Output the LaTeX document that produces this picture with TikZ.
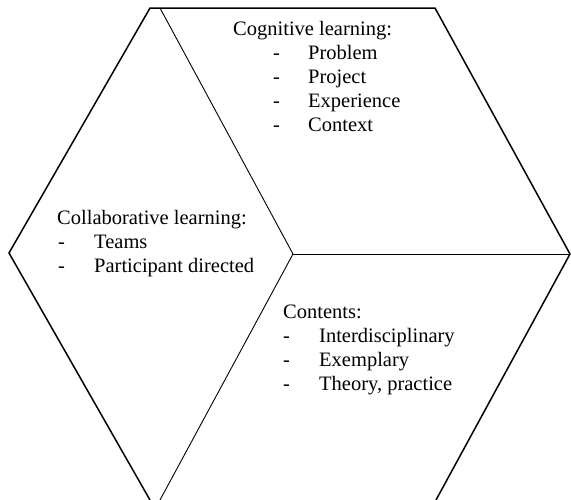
\documentclass[tikz,border=0pt]{standalone}
\usepackage{fontspec}
\setmainfont{Liberation Serif}
% dash of a list item: #1 = indent before the dash, #2 = space from dash to item text
\newcommand\listdash[2]{\hspace*{#1pt}\makebox[#2pt][l]{-}}
\begin{document}
\begin{tikzpicture}[x=1pt,y=-1pt,
  outer/.style={line width=1.5pt,line join=miter},
  inner/.style={line width=0.9pt},
  block/.style={anchor=base west,inner sep=0pt,align=left,
    font=\fontsize{20.5}{24}\selectfont}]
\useasboundingbox[fill=white] (0,0) rectangle (571,499);
% hexagon corners and centre
\coordinate (L)  at (9,253);
\coordinate (TL) at (150,8);
\coordinate (TR) at (435,8);
\coordinate (R)  at (570,254);
\coordinate (BR) at (436,500);
\coordinate (BL) at (150,500);
\coordinate (C)  at (293,254);
\coordinate (Tin) at (160,8);
\coordinate (Bin) at (160,500);
% outline
\draw[outer] (BL) -- (L) -- (TL) -- (TR) -- (R) -- (BR);
% inner dividing lines
\draw[inner] (C) -- (Tin);
\draw[inner] (C) -- (R);
\draw[inner] (C) -- (Bin);
% texts (anchored at the baseline of the last line)
\node[block] (cog) at (233,131) {Cognitive learning:\\
  \listdash{40}{35}Problem\\
  \listdash{40}{35}Project\\
  \listdash{40}{35}Experience\\
  \listdash{40}{35}Context};
\node[block] (col) at (57,272) {Collaborative learning:\\
  \listdash{1}{36}Teams\\
  \listdash{1}{36}Participant directed};
\node[block] (con) at (283,390) {Contents:\\
  \listdash{0}{36}Interdisciplinary\\
  \listdash{0}{36}Exemplary\\
  \listdash{0}{36}Theory, practice};
\end{tikzpicture}
\end{document}
